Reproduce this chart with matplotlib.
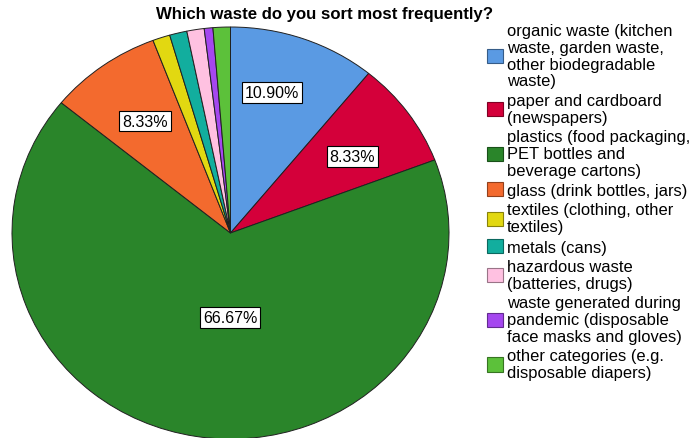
import matplotlib
matplotlib.use("Agg")
import matplotlib.pyplot as plt
import numpy as np
from matplotlib.patches import Patch
from matplotlib.colors import to_rgb

plt.rcParams['font.family'] = ['Liberation Sans', 'DejaVu Sans']

categories = [
    "organic waste (kitchen\nwaste, garden waste,\nother biodegradable\nwaste)",
    "paper and cardboard\n(newspapers)",
    "plastics (food packaging,\nPET bottles and\nbeverage cartons)",
    "glass (drink bottles, jars)",
    "textiles (clothing, other\ntextiles)",
    "metals (cans)",
    "hazardous waste\n(batteries, drugs)",
    "waste generated during\npandemic (disposable\nface masks and gloves)",
    "other categories (e.g.\ndisposable diapers)",
]
counts = [17, 13, 104, 13, 2, 2, 2, 1, 2]
pct_labels = ["10.90%", "8.33%", "66.67%", "8.33%", "", "", "", "", ""]
colors = ["#5A9AE3", "#D4003A", "#2A852A", "#F36A2E", "#E2D811",
          "#12AE9E", "#FFC1E1", "#A547EF", "#5CC13A"]

# label placement (distance from centre, angular nudge in degrees)
label_dist = [0.71, 0.67, 0.41, 0.67]
label_nudge = [4, -2, 9, 0]

fig = plt.figure(figsize=(6.93, 4.39), dpi=100)
ax = fig.add_axes([0, 0, 1, 1])

wedges, _ = ax.pie(counts, colors=colors, startangle=90, counterclock=False,
                   radius=1, center=(0, 0),
                   wedgeprops=dict(edgecolor='#202020', linewidth=0.7))

for i, w in enumerate(wedges):
    if not pct_labels[i]:
        continue
    ang = np.deg2rad((w.theta1 + w.theta2) / 2 + label_nudge[i])
    r = label_dist[i]
    ax.text(r * np.cos(ang), r * np.sin(ang), pct_labels[i], ha='center', va='center',
            fontsize=11.5,
            bbox=dict(boxstyle='square,pad=0.18', fc='white', ec='black', lw=0.8))

# pixel-based scaling: rx=218.5px, ry=206px, centre at (230.5, 205) from bottom-left
rx, ry = 218.5, 206.0
cx, cy = 230.5, 205.0
ax.set_aspect('auto')
ax.set_xlim(-cx / rx, (693 - cx) / rx)
ax.set_ylim(-cy / ry, (439 - cy) / ry)
ax.axis('off')

fig.text(325 / 693, 1 - 15 / 439, "Which waste do you sort most frequently?",
         ha='center', va='center', fontsize=12.1, fontweight='bold')

handles = [Patch(facecolor=c, edgecolor=tuple(v * 0.6 for v in to_rgb(c)), linewidth=0.8)
           for c in colors]
leg = fig.legend(handles, categories, loc='upper left', bbox_to_anchor=(487 / 693, 1 - 24 / 439),
                 frameon=False, borderpad=0, borderaxespad=0, fontsize=11.9,
                 handlelength=0.95, handleheight=0.95, handletextpad=0.25, labelspacing=0.27)
for t in leg.get_texts():
    t.set_linespacing(1.15)

fig.savefig("out.png", dpi=100)
